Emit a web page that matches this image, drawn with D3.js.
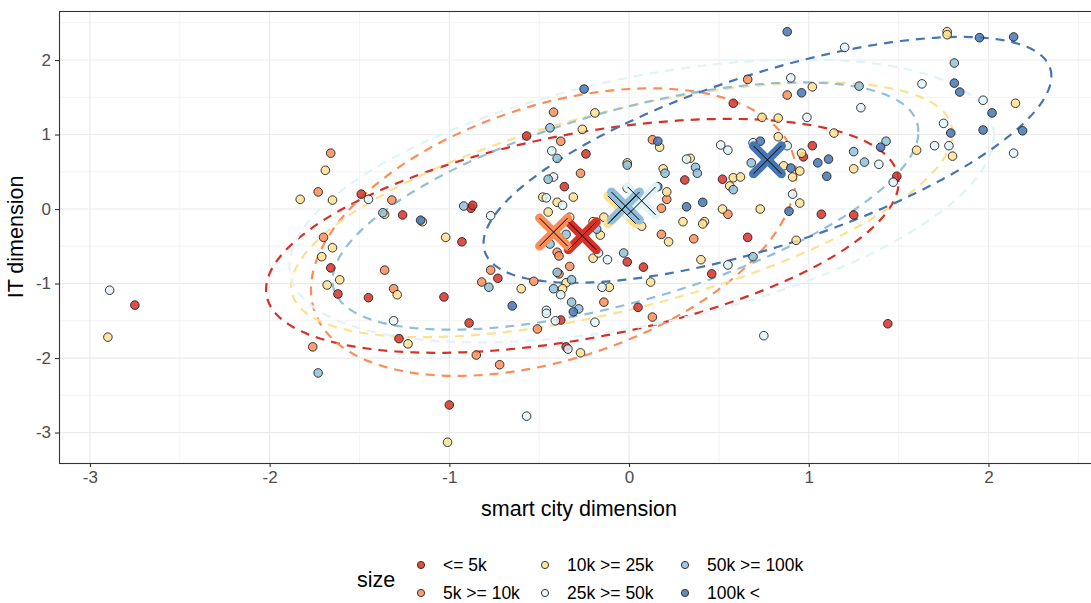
<!DOCTYPE html>
<html>
<head>
<script src="https://d3js.org/d3.v7.min.js"></script>
<style>
  body { margin: 0; background: #fff; }
  text { font-family: "Liberation Sans", Arial, sans-serif; }
</style>
</head>
<body>
<svg id="chart" width="1091" height="603"></svg>
<script>
// size classes and their colours (RdYlBu)
const sizeLevels = ["<= 5k", "5k >= 10k", "10k >= 25k", "25k >= 50k", "50k >= 100k", "100k <"];
const sizeColors = ["#d73027", "#fc8d59", "#fee090", "#e0f3f8", "#91bfdb", "#4575b4"];

// [smart city dimension, IT dimension] per city, by size class
const pointsLe5k = [[-2.75,-1.29],[-1.66,-0.79],[-1.62,-1.14],[-1.45,-1.19],[-1.49,0.20],[-1.26,-0.08],[-0.93,-0.44],
  [-0.88,0.01],[-0.87,0.05],[-1.03,-1.18],[-0.89,-1.53],[-1.28,-1.74],[-0.73,-0.93],[-1.00,-2.63],[-0.38,-1.49],
  [-0.35,-1.85],[0.05,-1.32],[0.08,-0.78],[-0.01,-0.71],[0.46,-0.87],[0.66,-0.38],[-0.57,0.98],[-0.24,0.74],
  [-0.36,0.30],[0.31,0.39],[0.58,1.42],[0.52,0.40],[1.02,0.85],[0.97,0.70],[1.07,-0.07],[1.25,-0.08],[1.49,0.44],[1.44,-1.54]];
const points5to10k = [[-1.76,-1.85],[-1.70,-0.38],[-1.66,0.75],[-1.73,0.23],[-1.32,0.12],[-1.36,-0.82],[-1.31,-1.07],
  [-0.82,-0.98],[-0.77,-0.82],[-0.53,-0.97],[-0.85,-1.96],[-0.72,-2.09],[-0.51,-1.61],[-0.14,-1.25],[0.13,-1.45],
  [0.18,-0.34],[0.36,-0.40],[-0.40,-0.58],[-0.39,-0.63],[-0.39,-0.87],[-0.33,-0.77],[-0.42,1.30],[-0.38,0.91],
  [-0.27,0.48],[0.13,0.93],[0.21,0.13],[0.18,0.01],[0.55,-0.07],[0.66,1.74],[0.88,1.53]];
const points10to25k = [[-2.90,-1.72],[-1.69,0.52],[-1.83,0.13],[-1.65,0.12],[-1.71,-0.64],[-1.65,-0.52],[-1.68,-1.02],
  [-1.61,-0.95],[-1.29,-1.15],[-1.36,-0.07],[-1.15,-0.17],[-1.02,-0.38],[-1.23,-1.81],[-0.60,-1.07],[-0.35,-0.99],
  [-0.37,-1.07],[-0.27,-1.93],[-0.20,-0.66],[-0.11,-1.05],[0.12,-0.98],[0.22,-0.44],[-0.16,-0.35],[0.40,-0.68],
  [-1.01,-3.13],[-0.19,1.29],[-0.26,1.07],[-0.31,0.16],[-0.48,0.16],[-0.45,-0.04],[-0.40,0.09],[-0.33,-0.11],
  [-0.14,-0.11],[-0.20,-0.17],[-0.01,0.62],[-0.01,0.28],[0.17,0.83],[0.19,0.54],[0.21,0.23],[0.30,-0.17],
  [0.07,-0.23],[0.34,0.68],[0.56,0.31],[0.58,0.42],[0.62,0.43],[0.42,-0.17],[0.41,-0.20],[0.52,0.00],[0.73,0.00],
  [0.74,1.23],[0.83,1.22],[0.83,0.97],[1.02,1.64],[1.14,1.02],[0.96,0.75],[0.86,0.58],[0.91,0.43],[0.95,0.51],
  [0.95,0.08],[0.93,-0.42],[1.25,0.54],[1.60,0.79],[1.80,0.71],[1.77,2.38],[1.77,2.34],[2.15,1.42]];
const points25to50k = [[-2.89,-1.09],[-1.45,0.13],[-1.31,-1.50],[-0.77,-0.09],[-0.46,-1.36],[-0.46,-1.40],[-0.41,-1.50],
  [-0.34,-1.88],[-0.19,-1.52],[-0.17,-0.59],[-0.12,-0.68],[-0.15,-1.05],[-0.38,-1.15],[-0.57,-2.78],[0.75,-1.70],
  [0.55,-0.75],[-0.43,0.78],[-0.42,0.43],[-0.46,0.15],[-0.37,0.05],[0.32,0.67],[0.51,0.86],[0.55,0.79],[0.69,0.89],
  [0.88,0.85],[0.90,1.76],[0.99,1.23],[1.29,1.36],[1.39,0.60],[1.47,0.36],[0.91,0.20],[1.20,2.17],[1.63,1.68],
  [1.97,1.46],[1.75,1.15],[1.70,0.85],[1.78,0.85],[2.14,0.75]];
const points50to100k = [[-1.73,-2.20],[-1.37,-0.05],[-0.92,0.04],[-0.78,-1.05],[-0.44,-0.47],[-0.40,-0.85],[-0.32,-0.95],
  [-0.42,-1.07],[-0.32,-1.25],[-0.28,-1.34],[-0.03,-0.59],[0.69,-0.64],[-0.44,1.09],[-0.40,0.68],[-0.45,0.40],
  [-0.18,-0.27],[-0.35,-0.34],[-0.01,0.59],[0.20,0.48],[0.37,0.56],[0.38,0.48],[0.68,0.62],[1.28,1.65],[1.25,0.77],
  [1.43,0.91],[1.31,0.63],[1.81,1.96],[0.58,0.26]];
const pointsGt100k = [[-1.16,-0.15],[-0.65,-1.30],[-0.31,-1.38],[-0.25,1.61],[0.16,0.30],[0.16,0.91],[0.32,0.03],
  [0.41,0.09],[0.73,0.91],[0.96,1.56],[0.90,0.55],[1.05,0.62],[1.11,0.67],[1.10,0.44],[0.89,-0.03],[1.40,0.83],
  [0.88,2.38],[1.95,2.30],[2.14,2.31],[1.81,1.69],[1.84,1.57],[2.02,1.29],[1.79,1.02],[1.97,1.06],[2.19,1.05]];
const pointsBySize = [pointsLe5k, points5to10k, points10to25k, points25to50k, points50to100k, pointsGt100k];

// group centres (drawn as crosses) and 95% ellipse spread / correlation
const centerX = [-0.26, -0.42, -0.04, 0.07, -0.02, 0.77];
const centerY = [-0.36, -0.31, -0.01, 0.11, 0.04, 0.66];
const spreadX = [1.76, 1.35, 1.84, 1.96, 1.63, 1.58];
const spreadY = [1.57, 1.93, 1.71, 1.90, 1.66, 1.65];
const corr    = [0.46, 0.40, 0.60, 0.46, 0.60, 0.68];

const xTicks = [-3, -2, -1, 0, 1, 2];
const yTicks = [-3, -2, -1, 0, 1, 2];

const svg = d3.select("#chart");
const pLeft = 59, pRight = 1099, pTop = 11, pBottom = 463;

const x = d3.scaleLinear().domain([-3.172, 2.615]).range([pLeft, pRight]);
const y = d3.scaleLinear().domain([-3.409, 2.658]).range([pBottom, pTop]);

// grid
const grid = svg.append("g");
const minorX = d3.range(-3.5, 3, 1).filter(v => x(v) > pLeft);
const minorY = d3.range(-3.5, 3, 1).filter(v => y(v) > pTop && y(v) < pBottom);
grid.selectAll(".mx").data(minorX).enter().append("line")
  .attr("x1", d => x(d)).attr("x2", d => x(d)).attr("y1", pTop).attr("y2", pBottom)
  .attr("stroke", "#ebebeb").attr("stroke-width", 0.6);
grid.selectAll(".my").data(minorY).enter().append("line")
  .attr("x1", pLeft).attr("x2", pRight).attr("y1", d => y(d)).attr("y2", d => y(d))
  .attr("stroke", "#ebebeb").attr("stroke-width", 0.6);
grid.selectAll(".gx").data(xTicks).enter().append("line")
  .attr("x1", d => x(d)).attr("x2", d => x(d)).attr("y1", pTop).attr("y2", pBottom)
  .attr("stroke", "#ebebeb").attr("stroke-width", 1.2);
grid.selectAll(".gy").data(yTicks).enter().append("line")
  .attr("x1", pLeft).attr("x2", pRight).attr("y1", d => y(d)).attr("y2", d => y(d))
  .attr("stroke", "#ebebeb").attr("stroke-width", 1.2);

// ellipses
const line = d3.line().x(d => x(d[0])).y(d => y(d[1]));
const angles = d3.range(0, 2 * Math.PI + 0.001, Math.PI / 90);
svg.append("g").selectAll("path").data(sizeLevels).enter().append("path")
  .attr("d", (d, i) => line(angles.map(t => [
    centerX[i] + spreadX[i] * Math.cos(t),
    centerY[i] + spreadY[i] * (corr[i] * Math.cos(t) + Math.sqrt(1 - corr[i] * corr[i]) * Math.sin(t))
  ])))
  .attr("fill", "none")
  .attr("stroke", (d, i) => sizeColors[i])
  .attr("stroke-width", 2.2)
  .attr("stroke-dasharray", "9,7");

// points
const pts = svg.append("g");
pointsBySize.forEach((arr, i) => {
  pts.selectAll(null).data(arr).enter().append("circle")
    .attr("cx", d => x(d[0])).attr("cy", d => y(d[1])).attr("r", 4.3)
    .attr("fill", sizeColors[i]).attr("fill-opacity", 0.85)
    .attr("stroke", "#222").attr("stroke-width", 0.9);
});

// centre crosses
const cross = svg.append("g");
const arm = 14;
const diag = [[-1, -1, 1, 1], [-1, 1, 1, -1]];
sizeLevels.forEach((lvl, i) => {
  const cx = x(centerX[i]), cy = y(centerY[i]);
  diag.forEach(s => {
    cross.append("line")
      .attr("x1", cx + s[0] * arm).attr("y1", cy + s[1] * arm)
      .attr("x2", cx + s[2] * arm).attr("y2", cy + s[3] * arm)
      .attr("stroke", sizeColors[i]).attr("stroke-width", 9).attr("stroke-linecap", "round");
  });
});
sizeLevels.forEach((lvl, i) => {
  const cx = x(centerX[i]), cy = y(centerY[i]);
  diag.forEach(s => {
    cross.append("line")
      .attr("x1", cx + s[0] * arm).attr("y1", cy + s[1] * arm)
      .attr("x2", cx + s[2] * arm).attr("y2", cy + s[3] * arm)
      .attr("stroke", "#000").attr("stroke-width", 1);
  });
});

// panel border
svg.append("rect").attr("x", pLeft + 0.5).attr("y", pTop + 0.5)
  .attr("width", pRight - pLeft).attr("height", pBottom - pTop)
  .attr("fill", "none").attr("stroke", "#333").attr("stroke-width", 1.1);

// axes
const xAxis = svg.append("g").attr("transform", `translate(0,${pBottom})`)
  .call(d3.axisBottom(x).tickValues(xTicks).tickSize(4).tickPadding(4));
const yAxis = svg.append("g").attr("transform", `translate(${pLeft},0)`)
  .call(d3.axisLeft(y).tickValues(yTicks).tickSize(4).tickPadding(4));
[xAxis, yAxis].forEach(a => {
  a.select(".domain").remove();
  a.selectAll(".tick line").attr("stroke", "#333").attr("stroke-width", 1.1);
  a.selectAll(".tick text").attr("fill", "#4d4d4d").style("font-size", "17px")
    .style("font-family", "'Liberation Sans', Arial, sans-serif")
    .text(d => d < 0 ? "-" + Math.abs(d) : d);
});

svg.append("text").attr("x", (pLeft + pRight) / 2).attr("y", 516)
  .attr("text-anchor", "middle").style("font-size", "21.5px").text("smart city dimension");
svg.append("text").attr("transform", `translate(23,${(pTop + pBottom) / 2}) rotate(-90)`)
  .attr("text-anchor", "middle").style("font-size", "21.5px").text("IT dimension");

// legend
const legend = svg.append("g");
legend.append("text").attr("x", 357).attr("y", 587).style("font-size", "21.5px").text("size");
const colX = [421, 545, 685], rowY = [565, 593];
sizeLevels.forEach((lvl, i) => {
  const cx = colX[Math.floor(i / 2)], cy = rowY[i % 2];
  legend.append("circle").attr("cx", cx).attr("cy", cy).attr("r", 3.6)
    .attr("fill", sizeColors[i]).attr("fill-opacity", 0.85)
    .attr("stroke", "#222").attr("stroke-width", 0.9);
  legend.append("text").attr("x", cx + 22).attr("y", cy + 6)
    .style("font-size", "17.5px").text(lvl);
});
</script>
</body>
</html>
